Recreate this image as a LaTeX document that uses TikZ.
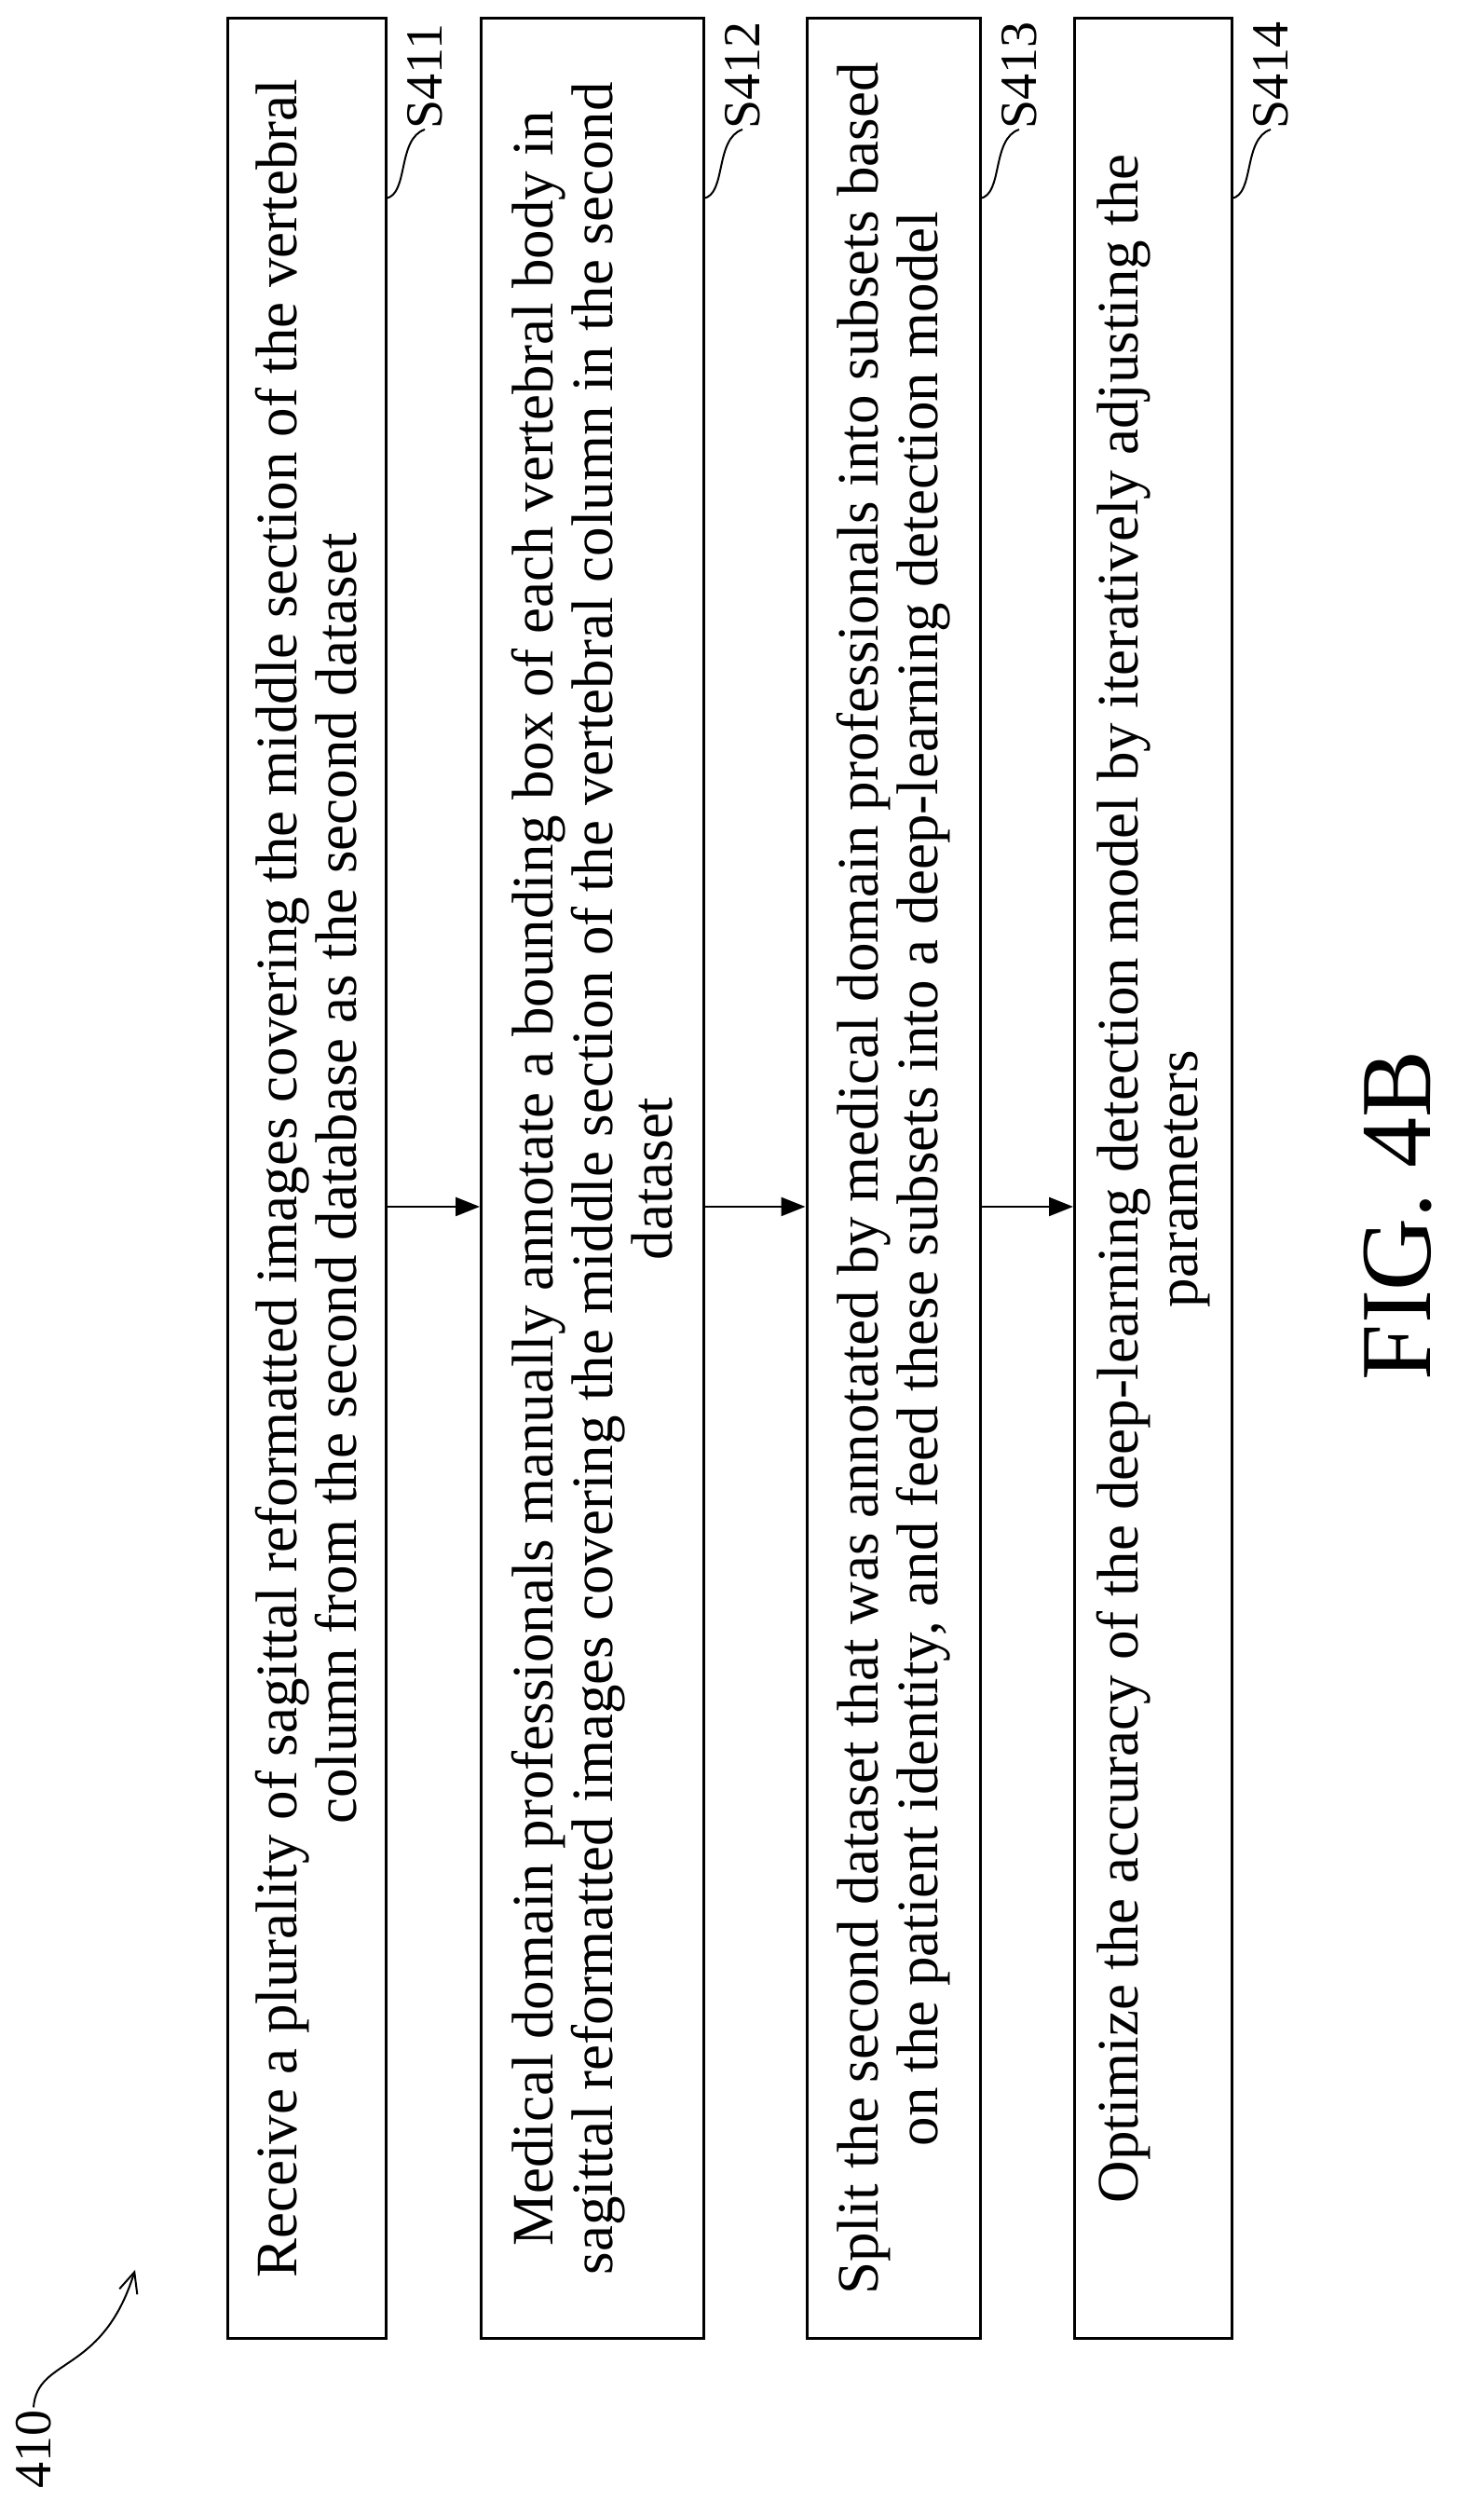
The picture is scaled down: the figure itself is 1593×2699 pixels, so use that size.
\documentclass[tikz,border=0pt]{standalone}
\usepackage{fontspec}
\setmainfont{Liberation Serif}
\usetikzlibrary{arrows.meta}
\begin{document}
\begin{tikzpicture}[x=1pt,y=1pt,
  stepbox/.style={draw,line width=3pt,rotate=90,minimum width=2490pt,align=center,inner sep=0pt,
    font=\fontsize{63}{64}\selectfont},
  lab/.style={rotate=90,anchor=west,font=\fontsize{56}{60}\selectfont,inner sep=0pt},
  conn/.style={line width=2.6pt,-{Triangle[length=26pt,width=20pt]}},
  sq/.style={line width=2pt}]
\useasboundingbox (0,0) rectangle (1593,2699);
\node[stepbox,minimum height=170pt] (b1) at (329,1434) {Receive a plurality of sagittal reformatted images covering the middle section of the vertebral\\column from the second database as the second dataset};
\node[stepbox,minimum height=239pt] (b2) at (636,1434) {Medical domain professionals manually annotate a bounding box of each vertebral body in\\sagittal reformatted images covering the middle section of the vertebral column in the second\\dataset};
\node[stepbox,minimum height=186pt] (b3) at (959,1434) {Split the second dataset that was annotated by medical domain professionals into subsets based\\on the patient identity, and feed these subsets into a deep-learning detection model};
\node[stepbox,minimum height=169pt] (b4) at (1238,1434) {Optimize the accuracy of the deep-learning detection model by iteratively adjusting the\\parameters};
\draw[conn] ([yshift=-30pt]b1.south) -- ([yshift=-30pt]b2.north);
\draw[conn] ([yshift=-30pt]b2.south) -- ([yshift=-30pt]b3.north);
\draw[conn] ([yshift=-30pt]b3.south) -- ([yshift=-30pt]b4.north);
\foreach \b/\t/\e in {b1/S411/414,b2/S412/755,b3/S413/1052,b4/S414/1322}{
  \coordinate (s\b) at (\e,2486);
  \node[lab] (l\b) at (\e+42,2560) {\t};
  \draw[sq] (s\b) .. controls (\e+25,2490) and (\e+12,2550) .. (l\b.west);
}
\node[rotate=90,font=\fontsize{108}{110}\selectfont] (fig) at (1500,1395) {FIG.\ 4B};
\node[rotate=90,font=\fontsize{56}{60}\selectfont] (n410) at (36,70) {410};
\coordinate (a410) at (145,263);
\draw[sq,-{Straight Barb[length=22pt,width=20pt]}] (n410.east) .. controls (40,170) and (110,150) .. (a410);
\end{tikzpicture}
\end{document}
